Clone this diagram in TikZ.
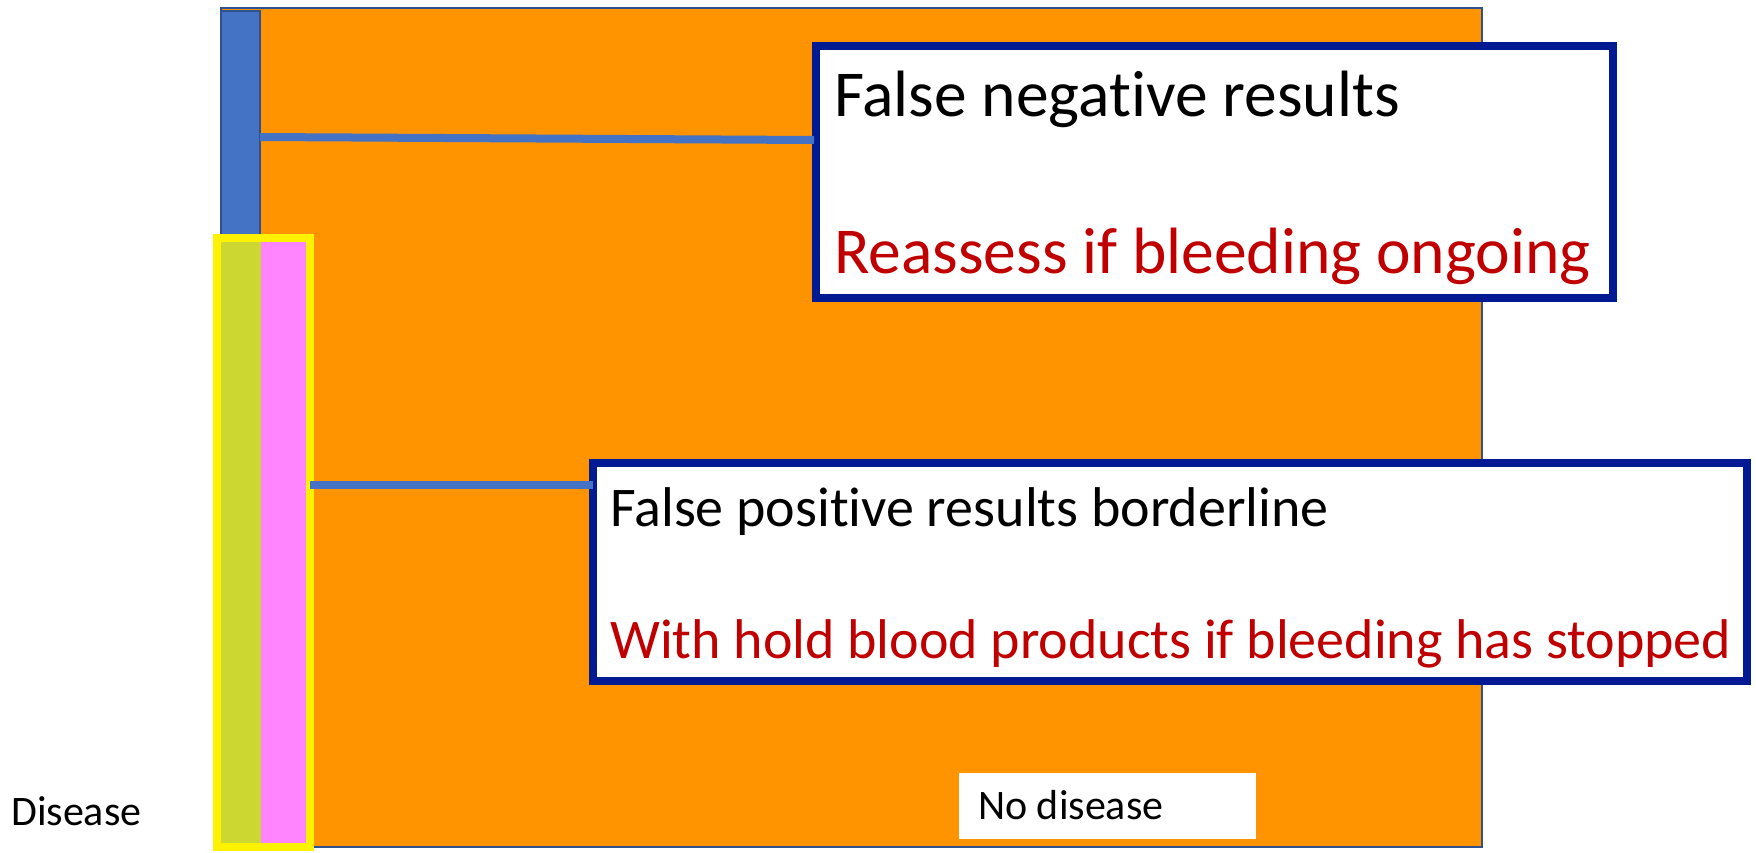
\documentclass[tikz,border=0pt]{standalone}
\usepackage{fontspec}
\setmainfont{Carlito}[Ligatures=NoCommon]
\definecolor{orangefill}{RGB}{255,148,0}
\definecolor{barblue}{RGB}{68,114,196}
\definecolor{edgeblue}{RGB}{47,82,143}
\definecolor{boxblue}{RGB}{0,26,148}
\definecolor{olive}{RGB}{205,215,50}
\definecolor{pinkfill}{RGB}{255,133,255}
\definecolor{textred}{RGB}{192,0,0}
\tikzset{
  px/.style={x=1pt,y=-1pt},
  panel/.style={rectangle,inner sep=0pt,outer sep=0pt,anchor=north west},
  callout/.style={panel,draw=boxblue,line width=8pt,fill=white},
  link/.style={draw=barblue,line width=8pt},
  bigtxt/.style={anchor=base west,inner sep=0pt,font=\fontsize{65.5}{76}\selectfont},
  midtxt/.style={anchor=base west,inner sep=0pt,font=\fontsize{56}{66}\selectfont},
  smalltxt/.style={anchor=base west,inner sep=0pt,font=\fontsize{42}{50}\selectfont},
}
\begin{document}
\begin{tikzpicture}[px]
\useasboundingbox (0,0) rectangle (1756,852);
% background area
\node[panel,fill=orangefill,draw=edgeblue,line width=1.2pt,minimum width=1261pt,minimum height=839pt] (area) at (221,8) {};
% disease column
\node[panel,fill=barblue,draw=edgeblue,line width=1.5pt,minimum width=39pt,minimum height=232pt] (bar) at (221,11) {};
\node[panel,fill=olive,minimum width=40pt,minimum height=609pt] (olive) at (221,238) {};
\node[panel,fill=pinkfill,minimum width=47pt,minimum height=609pt] (pink) at (261,238) {};
\node[panel,draw=yellow,line width=8pt,minimum width=93pt,minimum height=609pt] (ybox) at (217,238) {};
% callout boxes
\node[callout,minimum width=797pt,minimum height=252pt] (fn) at (816,46) {};
\node[callout,minimum width=1154pt,minimum height=218pt] (fp) at (593,463) {};
% connectors
\coordinate (fnstart) at (260,137);
\coordinate (fnend) at (814,140);
\draw[link] (fnstart) -- (fnend);
\coordinate (fpstart) at (ybox.east |- 0,485);
\draw[link] (fpstart) -- (fpstart -| fp.west);
% texts
\node[bigtxt] (fn1) at (834,116) {False negative results};
\node[bigtxt,text=textred] (fn2) at (834,273) {Reassess if bleeding ongoing};
\node[midtxt] (fp1) at (610,526) {False positive results borderline};
\node[midtxt,text=textred] (fp2) at (610,658) {With hold blood products if bleeding has stopped};
\node[panel,fill=white,minimum width=297pt,minimum height=66pt] (nobox) at (959,773) {};
\node[smalltxt] (nod) at (978,819) {No disease};
\node[smalltxt] (dis) at (11,825) {Disease};
\end{tikzpicture}
\end{document}
